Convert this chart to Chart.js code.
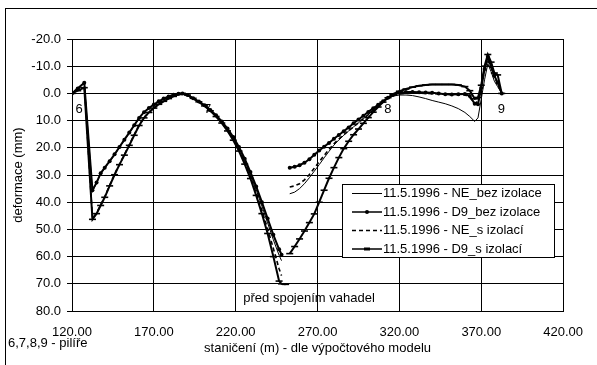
<!DOCTYPE html>
<html>
<head>
<meta charset="utf-8">
<script src="https://cdn.jsdelivr.net/npm/chart.js@4/dist/chart.umd.min.js"></script>
<style>
html, body { margin: 0; padding: 0; background: #fff; }
</style>
</head>
<body>
<canvas id="c" width="597" height="365"></canvas>
<script>
// staničení (m) - the null at 251.5 splits the two cantilevers
var stations = [120, 123.5, 127.5, 132.5, 135, 137.5, 140, 143, 146, 149, 152, 155, 158, 161, 164, 167, 170, 173, 176, 179, 182, 185, 187.5,
  190.5, 194, 197.5, 201, 204.5, 208, 211.5, 215, 218.5, 222, 225.5, 229, 232.5, 236, 239.5, 243, 246.5, 248, 250.5, 251.5,
  253, 256, 259, 262, 265, 268, 271, 274, 277, 280, 283, 286, 289, 292, 295, 298, 301, 304, 307, 310, 313, 316,
  320, 324, 328, 332, 336, 340, 344, 348, 352, 356, 360, 363, 366, 368, 370, 372, 374, 376, 378, 380, 382.5];

// deformace (mm)
var neBez = [0, -2.0, -4.2, 36.0, 33.0, 29.6, 27.5, 25.1, 22.6, 19.9, 17.2, 14.6, 11.9, 9.2, 7.1, 5.5, 4.2, 3.0, 2.0, 1.2, 0.6, 0.2, 0,
  0.6, 1.8, 3.0, 4.5, 6.2, 8.2, 10.5, 13.2, 16.4, 20.2, 24.7, 29.8, 35.4, 41.4, 47.6, 53.8, 59.5, 61.5, null, null,
  36.9, 36.3, 35.0, 33.2, 31.0, 28.6, 26.2, 23.7, 21.3, 19.0, 17.1, 15.4, 13.8, 12.3, 10.8, 9.3, 7.8, 6.2, 4.7, 3.2, 1.9, 1.0,
  0.6, 0.6, 0.8, 1.3, 1.9, 2.6, 3.2, 3.8, 4.6, 5.6, 7.0, 8.5, 10.3, 9.0, 2.0, -5.0, -10.9, -8.0, -4.5, -2.5, 0];

var d9Bez = [0, -1.8, -3.9, 35.6, 32.8, 29.4, 27.3, 24.9, 22.4, 19.7, 17.0, 14.4, 11.7, 9.0, 6.9, 5.4, 4.1, 2.9, 1.9, 1.1, 0.5, 0.1, 0,
  0.6, 1.8, 3.0, 4.4, 6.1, 8.0, 10.3, 12.9, 16.0, 19.7, 24.0, 28.9, 34.2, 40.0, 46.0, 52.0, 57.3, 59.3, null, null,
  27.3, 27.0, 26.4, 25.5, 24.2, 22.6, 21.0, 19.6, 18.2, 16.7, 15.3, 13.9, 12.5, 11.0, 9.6, 8.2, 6.8, 5.5, 4.2, 2.9, 1.6, 0.6,
  -0.2, -0.5, -0.5, -0.4, -0.3, -0.2, 0.0, 0.3, 0.4, 0.3, 0.2, 1.0, 3.8, 4.0, -2.0, -9.0, -13.5, -10.0, -6.5, -4.0, 0];

var neS = [0, -1.5, -3.8, 46.0, 44.0, 41.0, 38.0, 33.8, 29.7, 26.0, 22.5, 18.9, 15.2, 11.6, 8.9, 6.9, 5.3, 3.9, 2.8, 1.8, 1.0, 0.4, 0,
  0.6, 1.8, 3.1, 4.6, 6.4, 8.4, 10.8, 13.6, 16.9, 20.8, 25.5, 30.7, 36.6, 43.0, 49.8, 57.0, 64.5, 67.0, null, null,
  34.4, 34.0, 33.2, 31.8, 29.8, 27.5, 25.1, 22.8, 20.6, 18.5, 16.8, 15.2, 13.7, 12.3, 10.8, 9.3, 7.8, 6.2, 4.7, 3.2, 1.8, 0.8,
  0.2, 0.0, -0.1, -0.1, 0.0, 0.1, 0.2, 0.3, 0.4, 0.4, 0.5, 1.5, 3.6, 3.0, -2.5, -8.5, -12.5, -9.5, -6.0, -3.5, 0];

var d9S = [0, -1.0, -2.1, 46.3, 44.2, 41.2, 38.2, 34.0, 29.9, 26.2, 22.7, 19.1, 15.4, 11.8, 9.0, 7.0, 5.4, 4.0, 2.9, 1.9, 1.1, 0.4, 0,
  0.6, 1.8, 3.1, 4.6, 6.4, 8.5, 10.9, 13.8, 17.2, 21.2, 26.0, 31.3, 37.5, 44.2, 51.5, 60.0, 69.0, 70.0, 70.2, null,
  58.9, 56.3, 53.5, 50.6, 47.5, 44.3, 40.0, 35.6, 31.2, 27.3, 23.6, 20.3, 17.6, 15.2, 13.1, 11.0, 8.9, 6.9, 5.0, 3.2, 1.6, 0.3,
  -0.8, -1.6, -2.3, -2.8, -3.1, -3.3, -3.3, -3.3, -3.3, -3.1, -2.5, -1.0, 2.0, 1.5, -3.0, -10.0, -14.3, -11.5, -7.5, -6.8, 0];

var seriesNames = ['11.5.1996 - NE_bez izolace', '11.5.1996 - D9_bez izolace', '11.5.1996 - NE_s izolací', '11.5.1996 - D9_s izolací'];
var pierNames = ['6', '7', '8', '9'];
var pierStations = [124.3, 202.8, 312.9, 382.3];
var xTicks = [120, 170, 220, 270, 320, 370, 420];

var FONT = '"Liberation Sans", Arial, sans-serif';

function pts(vals) {
  return stations.map(function (s, i) { return { x: s, y: vals[i] }; });
}

// frame, pier numbers, note and the boxed legend
var decor = {
  id: 'decor',
  beforeDraw: function (chart) {
    var ctx = chart.ctx;
    ctx.save();
    ctx.fillStyle = '#fff';
    ctx.fillRect(0, 0, chart.width, chart.height);
    ctx.strokeStyle = '#000';
    ctx.lineWidth = 1;
    ctx.strokeRect(5.5, 8.5, chart.width + 20, chart.height + 20);
    ctx.restore();
  },
  afterDatasetsDraw: function (chart) {
    var ctx = chart.ctx, xs = chart.scales.x, ys = chart.scales.y;
    ctx.save();
    ctx.fillStyle = '#000';
    ctx.font = '13px ' + FONT;
    ctx.textAlign = 'center';
    ctx.textBaseline = 'middle';
    pierNames.forEach(function (n, i) {
      ctx.fillText(n, xs.getPixelForValue(pierStations[i]), ys.getPixelForValue(0) + 16);
    });
    ctx.fillText('před spojením vahadel', xs.getPixelForValue(264.8), ys.getPixelForValue(80) - 13);
    ctx.textAlign = 'left';
    ctx.fillText('6,7,8,9 - pilíře', 8, 343);

    // legend
    var bx = 342.5, by = 184.5, bw = 212, bh = 73;
    ctx.fillStyle = '#fff';
    ctx.fillRect(bx, by, bw, bh);
    ctx.strokeStyle = '#000';
    ctx.lineWidth = 1;
    ctx.strokeRect(bx, by, bw, bh);
    ctx.fillStyle = '#000';
    chart.data.datasets.forEach(function (ds, i) {
      var ry = 193.5 + i * 18.5;
      ctx.save();
      ctx.lineWidth = i === 0 ? 1 : 1.5;
      ctx.setLineDash(ds.borderDash || []);
      ctx.beginPath();
      ctx.moveTo(352, ry);
      ctx.lineTo(382, ry);
      ctx.stroke();
      ctx.restore();
      if (ds.pointStyle === 'circle') {
        ctx.beginPath();
        ctx.arc(367, ry, 2, 0, Math.PI * 2);
        ctx.fill();
      } else if (ds.pointStyle === 'line') {
        ctx.fillRect(364, ry - 1.5, 6, 3);
      }
      ctx.fillText(seriesNames[i], 383, ry);
    });
    ctx.restore();
  }
};

new Chart(document.getElementById('c'), {
  type: 'line',
  data: {
    datasets: [{
      label: seriesNames[0],
      data: pts(neBez),
      borderColor: '#000',
      borderWidth: 1,
      pointRadius: 0
    }, {
      label: seriesNames[1],
      data: pts(d9Bez),
      borderColor: '#000',
      borderWidth: 2,
      pointStyle: 'circle',
      pointRadius: 2,
      pointBorderWidth: 0,
      pointBackgroundColor: '#000'
    }, {
      label: seriesNames[2],
      data: pts(neS),
      borderColor: '#000',
      borderWidth: 1.6,
      borderDash: [4, 3],
      pointRadius: 0
    }, {
      label: seriesNames[3],
      data: pts(d9S),
      borderColor: '#000',
      borderWidth: 2,
      pointStyle: 'line',
      pointRadius: 3.5,
      pointBorderWidth: 1.6,
      pointBorderColor: '#000'
    }]
  },
  options: {
    responsive: false,
    animation: false,
    spanGaps: false,
    layout: { padding: { left: 0, top: 39, right: 32, bottom: 0 } },
    plugins: { legend: { display: false }, tooltip: { enabled: false } },
    scales: {
      x: {
        type: 'linear',
        min: 120, max: 420,
        afterFit: function (s) { s.height = 54; },
        afterBuildTicks: function (s) { s.ticks = xTicks.map(function (v) { return { value: v }; }); },
        grid: { color: '#000', drawTicks: false },
        border: { color: '#000' },
        ticks: {
          color: '#000', padding: 14, font: { family: FONT, size: 13 },
          callback: function (v) { return v.toFixed(2); }
        },
        title: {
          display: true, text: 'staničení (m) - dle výpočtového modelu',
          color: '#000', font: { family: FONT, size: 13 }, padding: { top: 0, bottom: 9 }
        }
      },
      y: {
        reverse: true,
        min: -20, max: 80,
        afterFit: function (s) { s.width = 72; },
        grid: { color: '#000', tickLength: 5 },
        border: { color: '#000' },
        ticks: {
          color: '#000', stepSize: 10, padding: 6, font: { family: FONT, size: 13 },
          callback: function (v) { return v.toFixed(1); }
        },
        title: {
          display: true, text: 'deformace (mm)',
          color: '#000', font: { family: FONT, size: 13 }, padding: { top: 11, bottom: 0 }
        }
      }
    }
  },
  plugins: [decor]
});
</script>
</body>
</html>
